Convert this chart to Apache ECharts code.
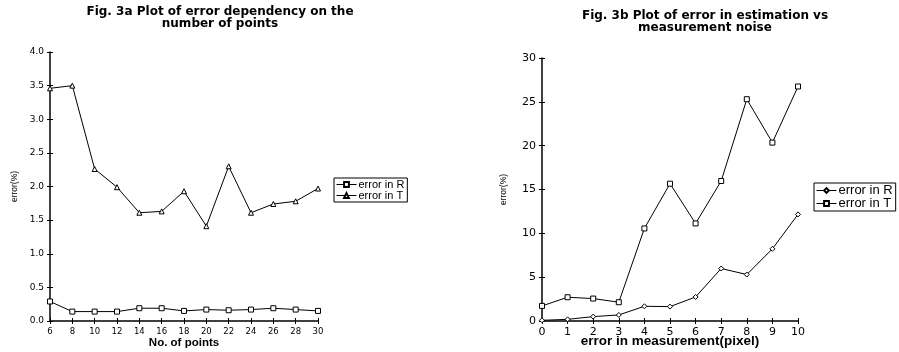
<!DOCTYPE html>
<html><head><meta charset="utf-8">
<script src="https://cdn.jsdelivr.net/npm/echarts@6/dist/echarts.min.js"></script>
<style>html,body{margin:0;padding:0;background:#fff}#c{width:899px;height:352px}</style>
</head><body><div id="c"></div>
<script>
// Fig 3a
const pointsX = [6, 8, 10, 12, 14, 16, 18, 20, 22, 24, 26, 28, 30];
const errR_a = [0.29, 0.14, 0.14, 0.14, 0.19, 0.19, 0.15, 0.17, 0.16, 0.17, 0.19, 0.17, 0.15];
const errT_a = [3.46, 3.50, 2.26, 1.99, 1.61, 1.63, 1.93, 1.41, 2.30, 1.61, 1.74, 1.78, 1.97];
// Fig 3b
const noiseX = [0, 1, 2, 3, 4, 5, 6, 7, 8, 9, 10];
const errR_b = [0.08, 0.19, 0.50, 0.69, 1.68, 1.64, 2.74, 5.99, 5.30, 8.23, 12.16];
const errT_b = [1.72, 2.71, 2.56, 2.14, 10.56, 15.66, 11.13, 15.97, 25.30, 20.35, 26.75];

const FONT = 'DejaVu Sans';
const axLine = {show: true, lineStyle: {color: '#000', width: 1.5}};
function zip(x, y) { return x.map((v, i) => [v, y[i]]); }

function xAxes(grid, min, max, interval, name, labelSize, nameSize, nameGap) {
  return [
    {type: 'value', gridIndex: grid, min, max, interval, position: 'bottom',
     axisLine: axLine, splitLine: {show: false},
     axisTick: {show: true, length: 3, lineStyle: {color: '#000', width: 1}},
     axisLabel: {color: '#000', fontFamily: FONT, fontSize: labelSize, margin: 6},
     name, nameLocation: 'middle', nameGap, nameMoveOverlap: false,
     nameTextStyle: {color: '#000', fontFamily: 'Liberation Sans', fontWeight: 'bold', fontSize: nameSize}},
    {type: 'value', gridIndex: grid, min, max, interval, position: 'bottom',
     axisLine: {show: false}, splitLine: {show: false},
     axisTick: {show: true, inside: true, length: 3, lineStyle: {color: '#000', width: 1}},
     axisLabel: {show: false}}
  ];
}
function yAxes(grid, min, max, interval, fmt, labelSize, nameGap) {
  return [
    {type: 'value', gridIndex: grid, min, max, interval, position: 'left',
     axisLine: axLine, splitLine: {show: false},
     axisTick: {show: true, length: 3, lineStyle: {color: '#000', width: 1}},
     axisLabel: {color: '#000', fontFamily: FONT, fontSize: labelSize, margin: 6, formatter: fmt},
     name: 'error(%)', nameLocation: 'middle', nameGap, nameRotate: 90, nameMoveOverlap: false,
     nameTextStyle: {color: '#000', fontFamily: 'Liberation Sans Narrow, Liberation Sans', fontSize: 8.5}},
    {type: 'value', gridIndex: grid, min, max, interval, position: 'left',
     axisLine: {show: false}, splitLine: {show: false},
     axisTick: {show: true, inside: true, length: 3, lineStyle: {color: '#000', width: 1}},
     axisLabel: {show: false}}
  ];
}
function ser(name, xi, yi, data, symbol, size) {
  return {type: 'line', name, xAxisIndex: xi, yAxisIndex: yi, data,
    symbol, symbolSize: size, showSymbol: true,
    lineStyle: {color: '#000', width: 1},
    itemStyle: {color: '#fff', borderColor: '#000', borderWidth: 1}, animation: false};
}

const chart = echarts.init(document.getElementById('c'), null, {renderer: 'canvas'});
chart.setOption({
  animation: false,
  backgroundColor: '#fff',
  title: [
    {text: 'Fig. 3a Plot of error dependency on the\nnumber of points', left: 215, top: 1, textAlign: 'center',
     textStyle: {fontFamily: FONT, fontWeight: 'bold', fontSize: 12, color: '#000', lineHeight: 12}},
    {text: 'Fig. 3b Plot of error in estimation vs\nmeasurement noise', left: 700, top: 5, textAlign: 'center',
     textStyle: {fontFamily: FONT, fontWeight: 'bold', fontSize: 12, color: '#000', lineHeight: 12}}
  ],
  grid: [
    {left: 50, top: 52, width: 268, height: 269, outerBoundsMode: 'none', containLabel: false},
    {left: 542, top: 58, width: 256, height: 263, outerBoundsMode: 'none', containLabel: false}
  ],
  xAxis: [
    ...xAxes(0, 6, 30, 2, 'No. of points', 8.5, 11.5, 16),
    ...xAxes(1, 0, 10, 1, 'error in measurement(pixel)', 11, 13.5, 13)
  ],
  yAxis: [
    ...yAxes(0, 0, 4, 0.5, v => v.toFixed(1), 9, 31),
    ...yAxes(1, 0, 30, 5, v => String(v), 11, 34)
  ],
  legend: [
    {data: [{name: 'error in R'}, {name: 'error in T'}], left: 334, top: 178, orient: 'vertical',
     itemWidth: 20, itemHeight: 6, itemGap: 0, padding: [1, 3, 1, 2],
     borderColor: '#000', borderWidth: 1, backgroundColor: '#fff',
     lineStyle: {width: 1, color: '#000'},
     textStyle: {fontFamily: 'Liberation Sans', fontSize: 11, lineHeight: 10, color: '#000', padding: [0, 0, 0, -3]},
     selectedMode: false},
    {data: [{name: 'error in R '}, {name: 'error in T '}], left: 814, top: 183, orient: 'vertical',
     itemWidth: 20, itemHeight: 6, itemGap: 0, padding: [1, 3, 1, 2],
     borderColor: '#000', borderWidth: 1, backgroundColor: '#fff',
     lineStyle: {width: 1, color: '#000'},
     formatter: n => n.trim(),
     textStyle: {fontFamily: 'Liberation Sans', fontSize: 13, lineHeight: 10, color: '#000', padding: [0, 0, 0, -3]},
     selectedMode: false}
  ],
  series: [
    ser('error in R', 0, 0, zip(pointsX, errR_a), 'rect', 5),
    ser('error in T', 0, 0, zip(pointsX, errT_a), 'triangle', 5),
    ser('error in R ', 2, 2, zip(noiseX, errR_b), 'diamond', 5),
    ser('error in T ', 2, 2, zip(noiseX, errT_b), 'rect', 5)
  ]
});
</script></body></html>
